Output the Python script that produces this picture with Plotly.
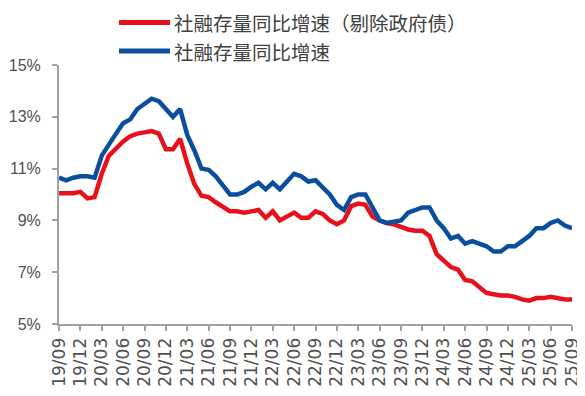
import plotly.graph_objects as go

# Monthly labels from 2019/09 to 2025/09
months = []
y, m = 2019, 9
while (y, m) <= (2025, 9):
    months.append(f"{y % 100:02d}/{m:02d}")
    m += 1
    if m > 12:
        m = 1
        y += 1

tsf_ex_gov = [
    10.05, 10.05, 10.05, 10.1, 9.85, 9.9, 10.8, 11.5, 11.8, 12.05,
    12.25, 12.35, 12.4, 12.45, 12.35, 11.75, 11.75, 12.15, 11.2, 10.4,
    9.95, 9.9, 9.7, 9.5, 9.35, 9.35, 9.3, 9.35, 9.4, 9.1,
    9.35, 9.0, 9.15, 9.3, 9.1, 9.1, 9.35, 9.25, 9.0, 8.85,
    9.0, 9.55, 9.65, 9.6, 9.15, 9.0, 8.9, 8.85, 8.75, 8.65,
    8.6, 8.6, 8.4, 7.7, 7.45, 7.2, 7.1, 6.7, 6.65, 6.45,
    6.2, 6.15, 6.1, 6.1, 6.05, 5.95, 5.9, 6.0, 6.0, 6.05,
    6.0, 5.95, 5.95,
]

tsf = [
    10.65, 10.55, 10.65, 10.7, 10.7, 10.65, 11.5, 11.95, 12.35, 12.75,
    12.9, 13.3, 13.5, 13.7, 13.6, 13.3, 13.0, 13.3, 12.3, 11.7,
    11.0, 10.95, 10.7, 10.35, 10.0, 10.0, 10.1, 10.3, 10.45, 10.2,
    10.45, 10.2, 10.5, 10.8, 10.7, 10.5, 10.55, 10.3, 10.0, 9.6,
    9.4, 9.9, 10.0, 10.0, 9.5, 9.0, 8.9, 8.95, 9.0, 9.3,
    9.4, 9.5, 9.5, 9.0, 8.7, 8.3, 8.4, 8.1, 8.2, 8.1,
    8.0, 7.8, 7.8, 8.0, 8.0, 8.2, 8.4, 8.7, 8.7, 8.9,
    9.0, 8.8, 8.7,
]

tick_labels = months[::3]
y_ticks = [5, 7, 9, 11, 13, 15]
y_tick_text = [f"{v}%" for v in y_ticks]

name_red = "社融存量同比增速（剔除政府债）"
name_blue = "社融存量同比增速"
color_red = "#E8101A"
color_blue = "#0A4E9E"

fig = go.Figure()
fig.add_trace(go.Scatter(x=months, y=tsf_ex_gov, name=name_red, mode="lines",
                         line=dict(color=color_red, width=4.5)))
fig.add_trace(go.Scatter(x=months, y=tsf, name=name_blue, mode="lines",
                         line=dict(color=color_blue, width=4.5)))

# page body has an 8px default margin, so the figure is 8px smaller
W, H = 577, 388
ML, MR, MT, MB = 51, 13, 57, 72
plot_w = W - ML - MR
plot_h = H - MT - MB


def px_to_paper_x(px):
    return (px - 8 - ML) / plot_w


def px_to_paper_y(py):
    return (H - MB + 8 - py) / plot_h


# legend drawn by hand (longer key lines than Plotly's default)
legend_rows = [(name_red, color_red, 22.5), (name_blue, color_blue, 51)]
shapes = []
annotations = []
for text, col, py in legend_rows:
    yy = px_to_paper_y(py)
    shapes.append(dict(type="line", xref="paper", yref="paper",
                       x0=px_to_paper_x(119), x1=px_to_paper_x(170), y0=yy, y1=yy,
                       line=dict(color=col, width=5)))
    annotations.append(dict(text=text, xref="paper", yref="paper",
                            x=px_to_paper_x(174), y=yy, xanchor="left", yanchor="middle",
                            showarrow=False, borderpad=0, borderwidth=0,
                            font=dict(family="Noto Sans CJK SC", size=19.5, color="#404040")))

fig.update_layout(
    width=W, height=H,
    margin=dict(l=ML, r=MR, t=MT, b=MB, autoexpand=False),
    paper_bgcolor="white", plot_bgcolor="white",
    showlegend=False,
    shapes=shapes, annotations=annotations,
    xaxis=dict(type="category", range=[0, len(months) - 1],
               tickmode="array", tickvals=tick_labels, ticktext=tick_labels,
               tickangle=-90,
               tickfont=dict(family="DejaVu Sans", size=17, color="#505050"),
               showline=True, linecolor="#A0A0A0", linewidth=2,
               ticks="outside", ticklen=5, tickcolor="#A0A0A0", tickwidth=2,
               showgrid=False, zeroline=False),
    yaxis=dict(range=[5, 15], tickmode="array", tickvals=y_ticks, ticktext=y_tick_text,
               tickfont=dict(family="Liberation Sans", size=16, color="#505050"),
               ticklabelstandoff=8,
               showline=True, linecolor="#A0A0A0", linewidth=2,
               ticks="outside", ticklen=5, tickcolor="#A0A0A0", tickwidth=2,
               showgrid=False, zeroline=False),
)

fig.write_html("out.html")
